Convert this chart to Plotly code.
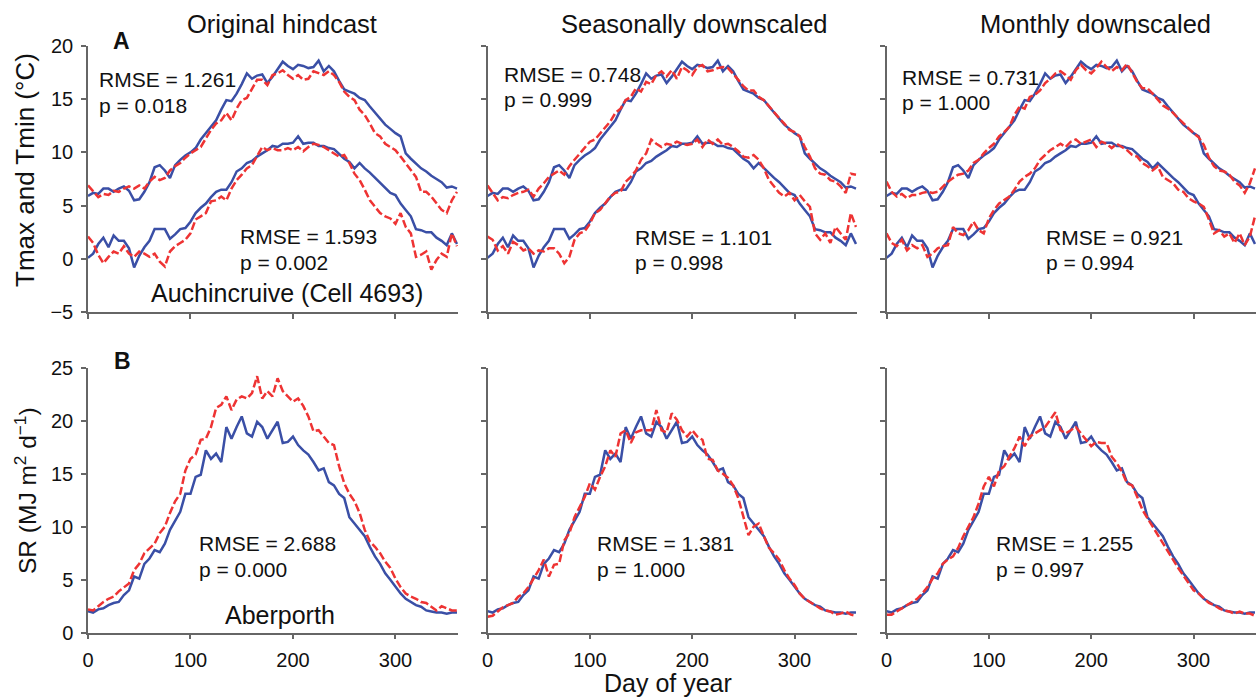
import plotly.graph_objects as go

W, H = 1258, 698

DAYS = list(range(0, 361, 5))

# Observed (blue, same in every panel of a row)
tmax_obs = [5.9,6.2,6.1,6.6,6.6,6.3,6.6,6.8,6.4,5.5,5.6,6.3,7.2,8.6,8.8,8.3,7.6,8.8,9.3,9.7,
            10.0,10.4,11.2,11.8,12.4,13.0,14.0,14.9,14.8,15.5,16.4,17.4,16.9,17.2,17.3,16.5,17.1,17.8,18.5,18.1,
            17.8,18.2,18.1,17.9,18.0,18.6,17.6,18.1,17.6,16.7,15.9,15.7,15.5,15.1,14.9,14.3,13.7,13.1,12.6,12.2,
            11.8,11.5,9.9,9.4,8.9,8.5,8.2,7.8,7.5,7.2,6.7,6.8,6.6]
tmin_obs = [0.1,0.5,1.4,2.0,1.1,2.2,1.7,1.7,1.0,-0.8,0.3,1.1,1.7,2.8,2.8,2.8,1.9,2.3,2.8,2.9,
            3.5,4.3,4.8,5.2,5.8,6.3,6.5,6.5,7.2,8.2,8.5,9.0,9.2,9.6,9.9,10.2,10.6,10.5,10.8,10.8,
            10.9,11.5,10.8,10.9,10.9,10.6,10.6,10.4,10.3,9.8,9.4,9.1,8.5,9.0,8.5,8.1,7.6,7.2,6.7,6.2,
            6.0,5.2,4.6,4.0,2.8,2.7,2.5,2.5,2.0,1.7,1.3,2.4,1.4]
sr_obs = [2.04,1.9,2.2,2.3,2.6,2.8,2.9,3.55,4.0,5.3,5.1,6.5,7.0,7.8,7.6,8.4,9.7,10.5,11.4,13.1,
          13.1,14.7,14.9,17.2,16.4,16.9,16.1,19.4,18.3,19.4,20.4,18.8,18.5,19.9,19.4,18.3,19.1,19.9,17.9,18.0,
          18.5,17.7,17.2,16.8,16.1,15.3,15.5,14.2,13.9,13.1,12.7,10.9,10.3,9.7,9.1,8.1,7.2,6.5,5.6,5.0,
          4.3,3.7,3.2,2.9,2.6,2.45,2.1,2.0,1.9,1.9,1.8,1.9,1.9]

# Modelled (red dashed)
tmax_hind = [6.9,6.3,5.8,6.1,6.0,6.4,6.3,6.6,6.8,6.6,6.9,6.6,7.25,7.7,7.4,7.6,8.3,8.7,9.0,9.5,
             9.9,10.2,10.5,11.3,12.1,12.7,13.0,13.7,13.0,14.1,14.9,15.1,16.0,16.8,16.8,16.3,17.25,17.4,17.7,17.25,
             16.9,17.25,16.8,16.9,17.6,17.4,17.25,17.6,17.25,16.6,15.7,15.2,14.9,14.0,13.5,12.7,11.8,11.5,10.8,10.5,
             10.2,9.6,9.0,8.3,7.7,6.3,6.3,5.85,5.2,4.6,4.3,5.5,6.3]
tmin_hind = [2.1,1.5,0.4,-0.4,0.2,0.7,0.5,1.2,0.5,0.2,0.7,0.5,0.2,0.5,-0.25,-0.7,0.7,1.2,1.5,1.8,
             2.4,3.7,4.0,4.3,5.4,5.5,5.85,5.5,6.6,7.4,7.9,8.5,8.8,9.6,10.5,10.2,10.4,10.2,10.2,10.4,
             10.2,10.5,10.1,10.5,10.8,10.7,10.5,10.2,9.9,9.6,9.75,9.0,8.0,7.4,6.5,5.5,4.9,4.3,4.0,3.8,
             3.3,4.3,3.0,2.4,0.2,0.4,0.7,-1.0,-0.1,0.5,0.2,2.4,1.2]
tmax_seas = [6.9,6.2,5.5,5.8,5.7,6.0,6.2,6.3,6.5,5.85,6.6,7.1,7.7,8.0,8.3,7.9,8.7,9.3,9.9,10.5,
             11.0,11.2,11.8,12.4,12.9,13.7,14.1,14.9,15.2,16.0,15.7,16.6,16.4,17.25,17.6,17.1,17.7,16.9,18.0,17.7,
             17.25,18.0,18.2,17.6,17.7,17.9,18.0,17.9,17.4,16.8,16.2,15.8,15.8,15.2,14.9,14.3,13.8,13.2,12.7,12.1,
             11.9,11.5,10.5,9.6,8.5,8.0,7.9,7.4,7.25,6.8,6.2,8.0,7.9]
tmin_seas = [2.1,1.8,0.8,1.2,0.5,1.6,1.3,0.8,1.0,0.5,0.8,0.7,1.0,1.0,0.5,-0.4,0.2,1.8,2.4,2.6,
             3.3,4.3,4.6,5.2,5.85,6.2,6.3,7.25,7.7,8.3,9.3,9.9,11.2,10.8,10.5,10.8,10.7,11.0,10.8,10.7,
             10.8,11.2,10.5,11.2,10.8,11.2,10.7,10.8,10.5,10.1,9.6,9.5,9.75,9.3,8.5,7.4,6.8,6.2,5.85,6.2,
             5.5,6.0,5.4,4.9,2.4,1.8,2.4,1.5,3.0,2.4,1.8,4.3,3.0]
tmax_month = [7.25,6.3,5.85,6.1,5.7,6.0,6.0,6.2,6.3,6.2,6.3,6.8,7.25,7.6,7.9,8.0,8.3,9.0,9.3,9.9,
              10.4,10.8,11.5,11.9,12.4,13.5,14.3,14.1,15.2,15.4,15.8,16.5,16.9,17.4,17.6,17.25,16.8,17.7,18.2,17.7,
              17.4,17.9,18.5,18.0,17.6,18.0,17.7,18.3,17.4,16.6,16.0,16.0,15.5,14.9,14.4,14.1,13.7,13.2,12.7,12.25,
              11.8,11.4,10.7,9.5,8.7,8.3,8.2,7.9,7.25,6.9,6.2,7.1,8.5]
tmin_month = [2.4,1.5,1.2,1.8,0.8,1.3,1.0,1.3,0.2,0.5,1.0,1.2,1.3,3.0,2.4,2.25,2.7,3.5,2.7,2.4,
              3.8,4.6,5.2,5.5,5.85,6.5,7.25,7.7,8.0,8.5,9.3,9.75,10.2,10.5,10.8,10.5,11.0,11.2,10.8,11.0,
              11.2,10.5,11.0,10.8,10.4,10.8,10.5,10.2,9.75,9.6,9.0,8.7,8.3,8.7,7.7,7.4,7.1,6.5,6.3,5.7,
              5.4,5.2,4.9,3.7,2.4,2.7,2.1,2.4,1.5,2.4,1.3,2.1,4.0]
sr_hind = [2.2,2.1,2.5,2.9,3.2,3.4,3.9,4.3,4.65,5.9,6.5,7.5,8.0,8.4,9.4,10.0,11.3,12.4,13.1,15.3,
           16.4,16.8,18.2,18.3,19.4,21.2,21.5,22.3,21.0,22.0,22.3,22.1,22.6,24.2,22.1,22.8,22.3,24.0,22.8,22.3,
           21.8,22.1,21.4,20.4,19.0,19.1,18.5,17.9,17.7,15.7,14.1,13.1,12.4,11.3,9.7,8.6,8.1,7.5,6.7,6.1,
           5.1,4.3,3.7,3.4,3.2,2.9,2.8,2.45,2.1,2.5,2.3,2.1,2.1]
sr_seas = [1.5,1.6,2.0,2.4,2.6,2.8,3.4,3.7,4.3,5.1,5.9,6.9,5.3,6.4,6.5,8.7,9.4,10.9,11.9,12.8,
           14.1,13.5,14.7,15.7,17.2,16.6,18.8,19.1,17.9,18.9,19.1,19.1,19.1,21.0,19.1,18.9,20.7,20.1,19.1,18.5,
           19.1,18.5,18.2,16.4,16.3,15.3,15.0,14.6,13.9,12.7,10.9,9.2,10.0,10.3,9.1,8.0,7.5,6.9,5.9,5.1,
           4.5,3.7,3.2,2.9,2.6,2.3,2.1,2.0,1.7,1.8,2.0,1.7,1.6]
sr_month = [1.7,1.7,2.0,2.3,2.6,2.9,3.2,3.7,4.3,5.1,5.6,6.5,6.9,7.2,8.0,9.1,10.0,10.9,12.2,13.8,
            14.7,13.8,15.3,15.7,16.6,17.4,18.5,17.6,18.5,18.8,19.1,19.4,20.1,20.8,19.1,18.8,19.1,19.4,18.8,18.2,
            17.6,18.0,17.9,17.9,16.6,16.0,15.2,14.1,13.9,12.8,11.6,10.8,10.0,9.2,8.4,7.6,6.9,6.1,5.4,4.65,
            4.0,3.7,3.2,2.8,2.6,2.3,2.1,2.0,1.8,2.0,1.8,1.8,1.6]

COL_TITLES = ["Original hindcast", "Seasonally downscaled", "Monthly downscaled"]
TOP_STATS = [("RMSE = 1.261", "p = 0.018", "RMSE = 1.593", "p = 0.002"),
             ("RMSE = 0.748", "p = 0.999", "RMSE = 1.101", "p = 0.998"),
             ("RMSE = 0.731", "p = 1.000", "RMSE = 0.921", "p = 0.994")]
BOT_STATS = [("RMSE = 2.688", "p = 0.000"),
             ("RMSE = 1.381", "p = 1.000"),
             ("RMSE = 1.255", "p = 0.997")]
X_TICKS = [0, 100, 200, 300]
Y_TICKS_TOP = [-5, 0, 5, 10, 15, 20]
Y_TICKS_BOT = [0, 5, 10, 15, 20, 25]

BLUE = "#3A4FA6"
RED = "#EE3333"
AX = "#666666"
FONT = "Liberation Sans, Arial, Helvetica, sans-serif"

def px_x(x):
    return x / W

def px_y(y):
    return 1 - y / H

col_px = [(88, 458), (487.5, 857), (886.5, 1256)]
top_px = (45.7, 312.3)
bot_px = (367.7, 632.7)

fig = go.Figure()

top_models = [(tmax_hind, tmin_hind), (tmax_seas, tmin_seas), (tmax_month, tmin_month)]
bot_models = [sr_hind, sr_seas, sr_month]

def add_line(y, idx, color, dash):
    fig.add_trace(go.Scatter(
        x=DAYS[:len(y)], y=y, mode="lines",
        xaxis="x" if idx == 1 else f"x{idx}",
        yaxis="y" if idx == 1 else f"y{idx}",
        line=dict(color=color, width=2.5, dash=dash),
        showlegend=False, hoverinfo="skip"))

for c in range(3):
    i = c + 1
    add_line(tmax_obs, i, BLUE, "solid")
    add_line(tmin_obs, i, BLUE, "solid")
    add_line(top_models[c][0], i, RED, "8px,3px")
    add_line(top_models[c][1], i, RED, "8px,3px")
for c in range(3):
    i = c + 4
    add_line(sr_obs, i, BLUE, "solid")
    add_line(bot_models[c], i, RED, "8px,3px")

axis_common = dict(showline=True, linecolor=AX, linewidth=1.5, ticks="outside",
                   ticklen=5, tickcolor=AX, tickwidth=1.5, showgrid=False,
                   zeroline=False, automargin=False,
                   tickfont=dict(family=FONT, size=20, color="#111"))

layout = dict(width=W, height=H,
              margin=dict(l=0, r=0, t=0, b=0, pad=0, autoexpand=False),
              paper_bgcolor="white", plot_bgcolor="white", showlegend=False)

for r in range(2):
    for c in range(3):
        i = r * 3 + c + 1
        xs = "" if i == 1 else str(i)
        l, rr = col_px[c]
        ty, by = top_px if r == 0 else bot_px
        layout["xaxis" + xs] = dict(axis_common, domain=[px_x(l), px_x(rr)],
                                    range=[0, 361], anchor="y" + xs,
                                    tickvals=X_TICKS, showticklabels=(r == 1),
                                    ticklabelstandoff=4)
        layout["yaxis" + xs] = dict(axis_common, domain=[px_y(by), px_y(ty)],
                                    range=[-5, 20] if r == 0 else [0, 25],
                                    anchor="x" + xs,
                                    tickvals=Y_TICKS_TOP if r == 0 else Y_TICKS_BOT,
                                    showticklabels=(c == 0), ticklabelstandoff=4)

fig.update_layout(**layout)

ann = []
def text(x, y, s, size=21, xanchor="left", angle=0):
    ann.append(dict(x=px_x(x), y=px_y(y), xref="paper", yref="paper", text=s,
                    showarrow=False, xanchor=xanchor, yanchor="middle",
                    textangle=angle, font=dict(family=FONT, size=size, color="#111")))

# column titles
for cx, t in zip([282, 694, 1095], COL_TITLES):
    text(cx, 24, t, size=25.5, xanchor="center")

# panel letters
text(111, 41, "<b>A</b>", size=23)
text(112, 361, "<b>B</b>", size=23)

# stats top row
top_pos = [((97, 79), (97, 105), (238, 236), (238, 262)),
           ((502, 74), (502, 100), (633, 237), (633, 262)),
           ((900, 77), (900, 102), (1044, 237), (1044, 262))]
for c in range(3):
    for (x, y), s in zip(top_pos[c], TOP_STATS[c]):
        text(x, y, s)
bot_pos = [((197, 543), (197, 569)), ((595, 543), (595, 569)), ((994, 543), (994, 569))]
for c in range(3):
    for (x, y), s in zip(bot_pos[c], BOT_STATS[c]):
        text(x, y, s)

text(149, 293, "Auchincruive (Cell 4693)", size=25)
text(223, 615, "Aberporth", size=25)

# axis titles
text(25, 170, "Tmax and Tmin (°C)", size=26, xanchor="center", angle=-90)
text(25, 491, "SR (MJ m<sup>2</sup> d<sup>−1</sup>)", size=24.5, xanchor="center", angle=-90)
text(668, 683, "Day of year", size=25, xanchor="center")

fig.update_layout(annotations=ann)
fig.write_html("out.html")
